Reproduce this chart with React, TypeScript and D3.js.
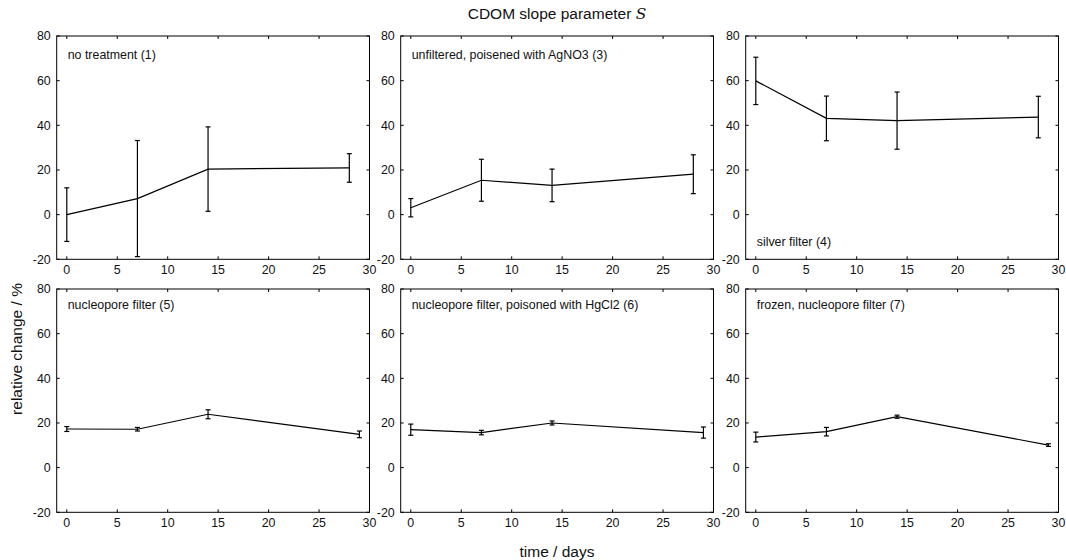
import * as d3 from 'd3'

// sample days
const daysTop = [0, 7, 14, 28]
const daysBottom = [0, 7, 14, 29]

// relative change of S (%) and error per treatment
const noTreatment = [0, 7.2, 20.4, 20.9]
const noTreatmentErr = [12, 26, 18.9, 6.4]
const agno3 = [3.1, 15.4, 13.1, 18.1]
const agno3Err = [4.1, 9.4, 7.3, 8.7]
const silverFilter = [59.9, 43.1, 42.1, 43.7]
const silverFilterErr = [10.6, 10, 12.8, 9.3]
const nucleopore = [17.3, 17.2, 23.9, 14.9]
const nucleoporeErr = [1.1, 0.8, 2.0, 1.5]
const hgcl2 = [17.0, 15.7, 20.0, 15.7]
const hgcl2Err = [2.5, 1.0, 0.9, 2.5]
const frozen = [13.7, 16.1, 22.8, 10.1]
const frozenErr = [2.2, 1.9, 0.7, 0.6]

const panelNames = [
  'no treatment (1)',
  'unfiltered, poisened with AgNO3 (3)',
  'silver filter (4)',
  'nucleopore filter (5)',
  'nucleopore filter, poisoned with HgCl2 (6)',
  'frozen, nucleopore filter (7)',
]

const xTicks = [0, 5, 10, 15, 20, 25, 30]
const yTicks = [-20, 0, 20, 40, 60, 80]

const panels = [
  { name: panelNames[0], days: daysTop, vals: noTreatment, errs: noTreatmentErr },
  { name: panelNames[1], days: daysTop, vals: agno3, errs: agno3Err },
  { name: panelNames[2], days: daysTop, vals: silverFilter, errs: silverFilterErr, labelBottom: true },
  { name: panelNames[3], days: daysBottom, vals: nucleopore, errs: nucleoporeErr },
  { name: panelNames[4], days: daysBottom, vals: hgcl2, errs: hgcl2Err },
  { name: panelNames[5], days: daysBottom, vals: frozen, errs: frozenErr },
]

const W = 1066
const H = 560
const colLeft = [56.7, 400.7, 745.7]
const rowTop = [36, 289]
const pw = 312.8
const ph = 223.3
const font = '"Liberation Sans", Arial, Helvetica, sans-serif'

function Panel({ p, left, top, row }: any) {
  const x = d3.scaleLinear().domain([-1, 30]).range([0, pw])
  const y = d3.scaleLinear().domain([-20, 80]).range([ph, 0])
  const line = d3.line<number>()
    .x((_, i) => x(p.days[i]))
    .y(d => y(d))
  const tl = 3
  const cap = 2.5

  return (
    <g transform={`translate(${left},${top})`}>
      {/* ticks, mirrored on all sides */}
      {xTicks.map(t => (
        <g key={'x' + t}>
          <line x1={x(t)} x2={x(t)} y1={ph} y2={ph - tl} stroke="#000" />
          <line x1={x(t)} x2={x(t)} y1={0} y2={tl} stroke="#000" />
          <text x={x(t)} y={ph + 15} textAnchor="middle" fontSize={12.4} fill="#111">{t}</text>
        </g>
      ))}
      {yTicks.map(t => (
        <g key={'y' + t}>
          <line x1={0} x2={tl} y1={y(t)} y2={y(t)} stroke="#000" />
          <line x1={pw} x2={pw - tl} y1={y(t)} y2={y(t)} stroke="#000" />
          <text x={-6} y={y(t)} dy="0.35em" textAnchor="end" fontSize={12.4} fill="#111">{t}</text>
        </g>
      ))}
      <rect x={0} y={0} width={pw} height={ph} fill="none" stroke="#000" strokeWidth={1} />
      {/* error bars */}
      {p.vals.map((v: number, i: number) => {
        const cx = x(p.days[i])
        const y1 = y(v + p.errs[i])
        const y0 = y(v - p.errs[i])
        return (
          <g key={'e' + i} stroke="#000" strokeWidth={1.2}>
            <line x1={cx} x2={cx} y1={y0} y2={y1} />
            <line x1={cx - cap} x2={cx + cap} y1={y1} y2={y1} />
            <line x1={cx - cap} x2={cx + cap} y1={y0} y2={y0} />
          </g>
        )
      })}
      <path d={line(p.vals) || ''} fill="none" stroke="#000" strokeWidth={1.2} />
      <text
        x={11}
        y={p.labelBottom ? ph - 13 : row === 0 ? 23 : 20}
        fontSize={12.4}
        fill="#111"
      >
        {p.name}
      </text>
    </g>
  )
}

export default function App() {
  return (
    <div style={{ position: 'absolute', left: 0, top: 0 }}>
      <svg width={W} height={H} style={{ display: 'block', background: '#fff', fontFamily: font }}>
        <text x={557} y={19} textAnchor="middle" fontSize={15.5} fill="#111">
          CDOM slope parameter{' '}
          <tspan fontFamily='"DejaVu Serif", "Liberation Serif", serif' fontStyle="italic">S</tspan>
        </text>
        {panels.map((p, i) => (
          <Panel key={i} p={p} left={colLeft[i % 3]} top={rowTop[Math.floor(i / 3)]} row={Math.floor(i / 3)} />
        ))}
        <text
          transform={`translate(22,349) rotate(-90)`}
          textAnchor="middle"
          fontSize={15.5}
          fill="#111"
        >
          relative change / %
        </text>
        <text x={557} y={557} textAnchor="middle" fontSize={15.5} fill="#111">time / days</text>
      </svg>
    </div>
  )
}
